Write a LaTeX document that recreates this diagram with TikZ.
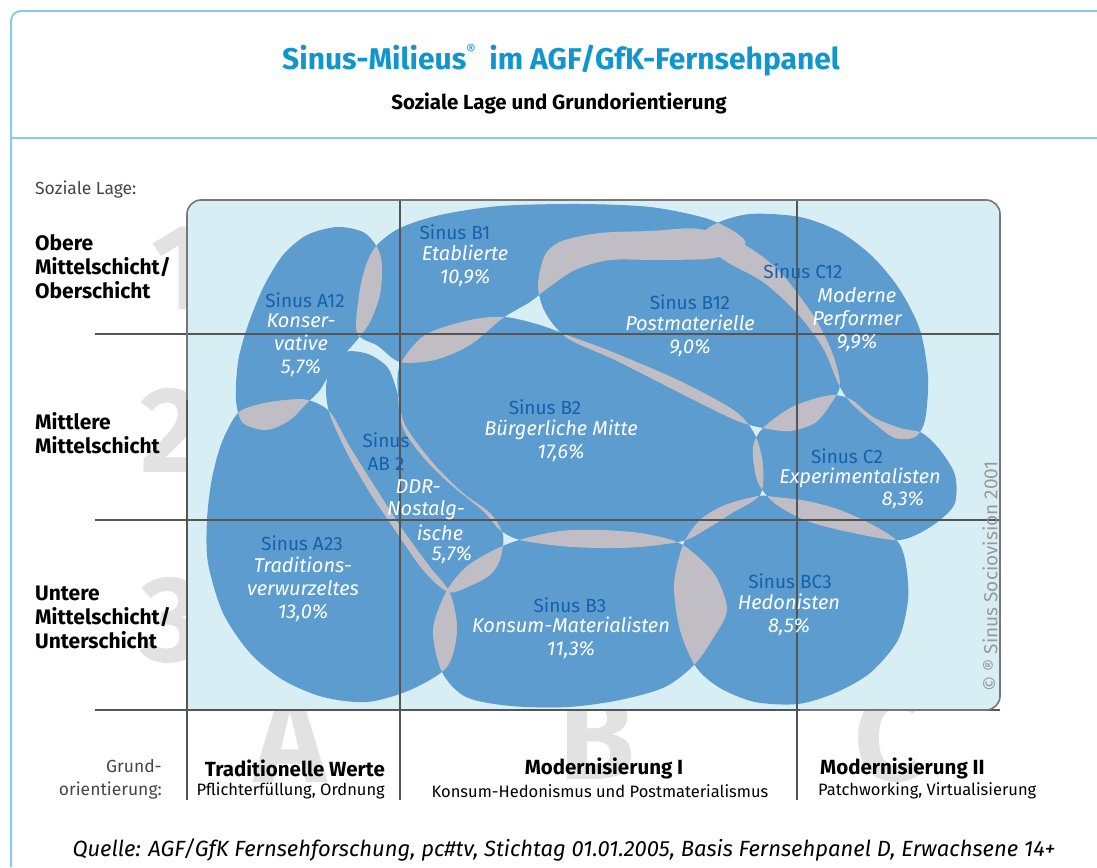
\documentclass[tikz,border=0pt]{standalone}
\usepackage{fontspec}
\setmainfont{Fira Sans}

\definecolor{frameblue}{RGB}{135,205,232}
\definecolor{titleblue}{RGB}{16,150,205}
\definecolor{chartbg}{RGB}{216,238,245}
\definecolor{blobblue}{RGB}{92,156,206}
\definecolor{overlapgrey}{RGB}{192,190,196}
\definecolor{codeblue}{RGB}{22,96,172}
\definecolor{gridgrey}{RGB}{85,85,85}
\definecolor{bigletter}{RGB}{226,226,226}
\definecolor{labelgrey}{RGB}{70,70,70}

% outlines of the milieus, in pixel coordinates
\newcommand\konsblob{plot[smooth cycle] coordinates {(337,227) (363,232) (377,247) (382,265) (380,295) (370,322) (357,340) (343,356) (330,373) (320,390) (307,403) (290,420) (267,430) (243,423) (236,400) (238,362) (247,328) (263,288) (283,255) (307,235)}}
\newcommand\etabblob{plot[smooth cycle] coordinates {(357,333) (359,295) (366,265) (377,245) (400,228) (440,215) (500,206) (580,204) (650,207) (705,218) (735,232) (745,245) (715,258) (660,260) (610,260) (575,270) (548,288) (530,302) (503,318) (470,345) (435,360) (400,362) (378,346)}}
\newcommand\postblob{plot[smooth cycle] coordinates {(538,285) (545,255) (562,241) (600,233) (650,231) (700,229) (745,245) (780,272) (813,315) (832,352) (840,385) (830,405) (815,423) (790,431) (763,428) (735,420) (680,393) (615,360) (567,338) (545,312)}}
\newcommand\perfblob{plot[smooth cycle] coordinates {(700,240) (715,224) (750,214) (800,217) (840,232) (873,257) (900,290) (920,330) (928,377) (925,420) (915,437) (895,438) (875,424) (850,402) (838,383) (823,348) (797,313) (763,282) (727,262)}}
\newcommand\ddrblob{plot[smooth cycle] coordinates {(330,368) (345,352) (368,354) (388,368) (398,395) (405,425) (433,463) (463,493) (490,513) (503,535) (500,560) (490,575) (470,586) (448,592) (423,570) (397,533) (370,493) (347,453) (330,415) (326,390)}}
\newcommand\buergblob{plot[smooth cycle] coordinates {(400,365) (425,335) (470,320) (505,317) (540,325) (567,335) (615,353) (680,381) (735,411) (755,435) (763,465) (760,495) (732,513) (705,530) (683,541) (640,547) (600,548) (560,546) (520,540) (500,530) (483,511) (450,484) (423,457) (403,428) (398,395)}}
\newcommand\expblob{plot[smooth cycle] coordinates {(753,447) (763,428) (790,408) (817,398) (835,395) (852,400) (873,417) (900,428) (922,433) (940,450) (955,475) (955,503) (940,520) (920,533) (900,540) (873,537) (827,527) (800,518) (773,502) (757,480)}}
\newcommand\tradblob{plot[smooth cycle] coordinates {(238,413) (260,404) (285,400) (308,400) (330,412) (350,447) (377,490) (403,530) (430,567) (450,593) (457,630) (447,667) (410,690) (367,702) (323,697) (283,680) (250,653) (223,613) (208,563) (207,520) (212,478) (222,442)}}
\newcommand\konsumblob{plot[smooth cycle] coordinates {(446,592) (465,568) (490,552) (519,540) (560,531) (600,530) (640,533) (672,540) (690,550) (715,575) (727,610) (712,640) (694,665) (665,687) (620,700) (568,707) (511,706) (466,697) (442,672) (433,630)}}
\newcommand\hedoblob{plot[smooth cycle] coordinates {(683,545) (700,520) (725,505) (758,496) (775,497) (807,501) (840,510) (873,525) (898,542) (906,565) (908,600) (898,640) (870,673) (835,693) (798,704) (755,702) (720,688) (696,667) (680,630) (674,585)}}

\tikzset{
  blob/.style={fill=blobblue},
  overlap/.style={fill=overlapgrey},
  gridline/.style={draw=gridgrey, line width=1.3pt},
  boxline/.style={draw=gridgrey!80, line width=1.6pt},
  code/.style={text=codeblue, inner sep=0pt, font=\fontsize{19}{23}\selectfont},
  milieu/.style={text=white, inner sep=0pt, align=center, font=\fontsize{20}{23}\selectfont\itshape},
  sidelabel/.style={inner sep=0pt, align=left, font=\fontsize{21}{24}\selectfont\bfseries},
  smalllabel/.style={inner sep=0pt, text=labelgrey, font=\fontsize{17.5}{23}\selectfont},
  sublabel/.style={inner sep=0pt, font=\fontsize{16.5}{20}\selectfont},
  headlabel/.style={inner sep=0pt, font=\fontsize{20.5}{24}\selectfont\bfseries},
  biglabel/.style={inner sep=0pt, text=bigletter, font=\fontsize{122}{122}\selectfont\bfseries}
}

\begin{document}
\begin{tikzpicture}[x=1pt, y=-1pt]
  \useasboundingbox (0,0) rectangle (1097,867);

  % outer frame
  \draw[frameblue, line width=2pt, rounded corners=10pt] (11,867) -- (11,11) -- (1097,11);
  \draw[frameblue, line width=2pt] (11,138) -- (1097,138);

  \node[text=titleblue, font=\fontsize{30}{34}\selectfont\bfseries] (title) at (561,60)
    {Sinus-Milieus\raisebox{0.85ex}{\fontsize{15}{15}\selectfont\mdseries ®}\hspace{0.45em}im AGF/GfK-Fernsehpanel};
  \node[font=\fontsize{20.5}{24}\selectfont\bfseries] (subtitle) at (559,103) {Soziale Lage und Grundorientierung};

  % big grey axis letters, partly hidden by the chart
  \node[biglabel] (one) at (180,268) {1};
  \node[biglabel] (two) at (172,430) {2};
  \node[biglabel] (three) at (172,620) {3};
  \node[biglabel] (colA) at (290,740) {A};
  \node[biglabel] (colB) at (597,737) {B};
  \node[biglabel] (colC) at (890,738) {C};

  % chart background
  \fill[chartbg, rounded corners=14pt] (187,200) rectangle (1000,710);
  \fill[chartbg] (187,680) rectangle (220,710);

  % milieus
  \foreach \b in {\konsblob,\etabblob,\postblob,\perfblob,\ddrblob,\buergblob,\expblob,\tradblob,\konsumblob,\hedoblob}
    \fill[blob] \b;

  % overlaps
  \foreach \p/\q in {\konsblob/\etabblob, \konsblob/\tradblob, \tradblob/\ddrblob, \ddrblob/\buergblob,
      \ddrblob/\konsumblob, \tradblob/\konsumblob, \etabblob/\buergblob, \etabblob/\postblob,
      \etabblob/\perfblob, \postblob/\perfblob, \postblob/\buergblob, \postblob/\expblob,
      \perfblob/\expblob, \buergblob/\expblob, \buergblob/\hedoblob, \buergblob/\konsumblob,
      \konsumblob/\hedoblob, \expblob/\hedoblob}
  {
    \begin{scope}
      \clip \p;
      \fill[overlap] \q;
    \end{scope}
  }

  % grid
  \foreach \y in {334,520,710}
    \draw[gridline] (95,\y) -- (1000,\y);
  \draw[gridline] (187,214) -- (187,800);
  \foreach \x in {400,797}
    \draw[gridline] (\x,200) -- (\x,800);
  \draw[boxline, rounded corners=14pt] (187,400) -- (187,200) -- (1000,200) -- (1000,710) -- (800,710);

  % milieu labels
  \node[code] (b1) at (455,232) {Sinus B1};
  \node[milieu] (etab) at (465,266) {Etablierte\\10,9\%};
  \node[code] (a12) at (305,300) {Sinus A12};
  \node[milieu] (kons) at (301,345) {Konser-\\vative\\5,7\%};
  \node[code] (b12) at (690,302) {Sinus B12};
  \node[milieu] (post) at (690,336) {Postmaterielle\\9,0\%};
  \node[code] (c12) at (803,271) {Sinus C12};
  \node[milieu] (perf) at (857,320) {Moderne\\Performer\\9,9\%};
  \node[code] (b2) at (545,407) {Sinus B2};
  \node[milieu] (buerg) at (561,441) {Bürgerliche Mitte\\17,6\%};
  \node[code, align=center] (ab2) at (386,452) {Sinus\\AB 2};
  \node[milieu] (ddr1) at (418,487) {DDR-};
  \node[milieu] (ddr2) at (426,510) {Nostalg-};
  \node[milieu] (ddr3) at (440,533) {ische};
  \node[milieu] (ddr4) at (452,555) {5,7\%};
  \node[code] (c2) at (847,456) {Sinus C2};
  \node[milieu] (exp) at (860,478) {Experimentalisten};
  \node[milieu] (exppct) at (903,500) {8,3\%};
  \node[code] (a23) at (302,543) {Sinus A23};
  \node[milieu] (trad) at (303,589) {Traditions-\\verwurzeltes\\13,0\%};
  \node[code] (b3) at (570,605) {Sinus B3};
  \node[milieu] (konsum) at (571,638) {Konsum-Materialisten\\11,3\%};
  \node[code] (bc3) at (790,581) {Sinus BC3};
  \node[milieu] (hedo) at (789,615) {Hedonisten\\8,5\%};

  % axis texts
  \node[smalllabel, anchor=west] (lage) at (35,190) {Soziale Lage:};
  \node[sidelabel, anchor=west] (upper) at (35,267) {Obere\\Mittelschicht/\\Oberschicht};
  \node[sidelabel, anchor=west] (middle) at (35,433) {Mittlere\\Mittelschicht};
  \node[sidelabel, anchor=west] (lower) at (35,617) {Untere\\Mittelschicht/\\Unterschicht};
  \node[smalllabel, align=right, anchor=east] (grund) at (162,779) {Grund-\\orientierung:};

  \node[headlabel, anchor=east] (tradw) at (385,768) {Traditionelle Werte};
  \node[sublabel, anchor=east] (tradsub) at (385,791) {Pflichterfüllung, Ordnung};
  \node[headlabel] (mod1) at (604,768) {Modernisierung I};
  \node[sublabel] (mod1sub) at (600,791) {Konsum-Hedonismus und Postmaterialismus};
  \node[headlabel, anchor=west] (mod2) at (820,768) {Modernisierung II};
  \node[sublabel, anchor=west] (mod2sub) at (818,791) {Patchworking, Virtualisierung};

  \node[inner sep=0pt, font=\fontsize{22}{26}\selectfont\itshape] (source) at (564,850)
    {Quelle: AGF/GfK Fernsehforschung, pc\#tv, Stichtag 01.01.2005, Basis Fernsehpanel D, Erwachsene 14+};
  \node[inner sep=0pt, rotate=90, anchor=west, text=black!40, font=\fontsize{19}{22}\selectfont] (copy) at (990,692)
    {© ® Sinus Sociovision 2001};
\end{tikzpicture}
\end{document}
